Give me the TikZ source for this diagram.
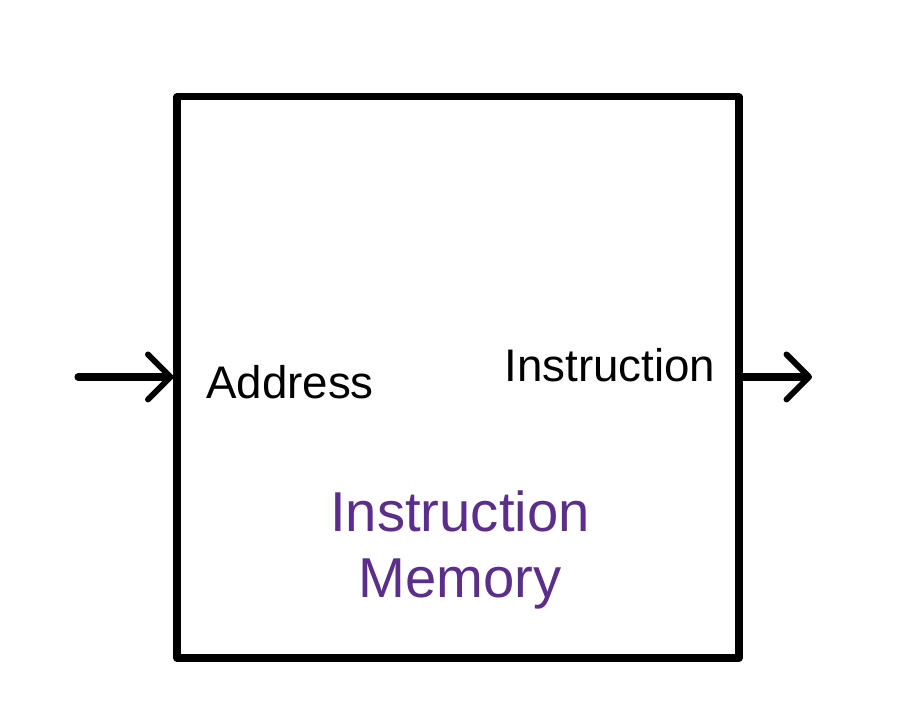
\documentclass[tikz,border=0pt]{standalone}
\usepackage{fontspec}
\setmainfont{Liberation Sans}
\usetikzlibrary{arrows.meta}
\definecolor{memviolet}{HTML}{5A2E8A}
\tikzset{
  unitbox/.style={draw=black, line width=4pt, line join=round, minimum width=11.24cm, minimum height=11.22cm, inner sep=0pt},
  wire/.style={line width=4pt, line cap=round, -{Straight Barb[length=4.5mm, width=9mm, line width=3.4pt, round]}},
  portlabel/.style={font=\fontsize{26}{30}\selectfont, text=black, inner sep=0pt},
  unitlabel/.style={font=\fontsize{32}{40}\selectfont, text=memviolet, align=center, inner sep=0pt},
}
\begin{document}
\begin{tikzpicture}
\useasboundingbox (0,0) rectangle (17.94,14.5);
\node[unitbox] (imem) at (9.16,6.95) {};
\coordinate (inpt) at (1.56,6.96);
\coordinate (outpt) at (16.24,6.96);
\draw[wire] (inpt) -- (inpt -| imem.west);
\draw[wire] (outpt -| imem.east) -- (outpt);
\node[portlabel] (addr) at (5.8,6.86) {Address};
\node[portlabel] (instr) at (12.2,7.2) {Instruction};
\node[unitlabel] (name) at (9.2,3.5) {Instruction\\[-2pt]Memory};
\end{tikzpicture}
\end{document}
